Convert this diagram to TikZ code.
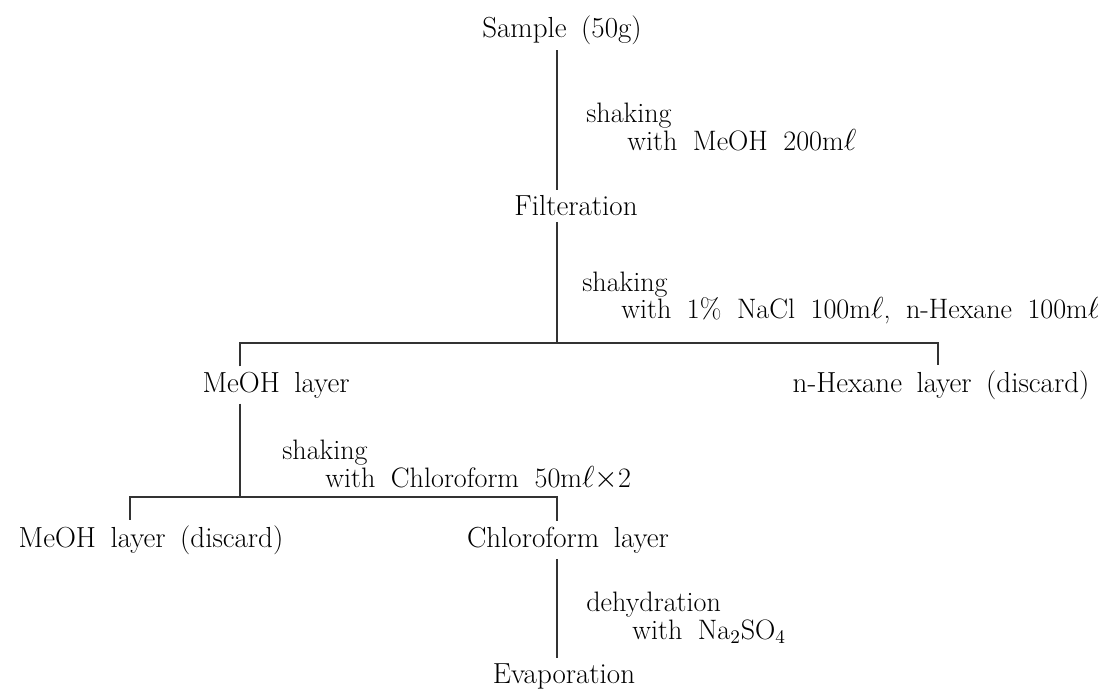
\documentclass[tikz,border=0pt]{standalone}
\usetikzlibrary{positioning}
\newcommand{\stagefont}{\fontsize{16.5}{18}\selectfont\spaceskip 0.5em plus 0.1em\relax}
\newcommand{\condfont}{\fontsize{16}{15.5}\selectfont\spaceskip 0.55em plus 0.1em\relax}
\tikzset{
  stage/.style={inner sep=3pt, font=\stagefont},
  cond/.style={anchor=west, align=left, inner sep=0pt, font=\condfont},
  flow/.style={line width=0.8pt, black!80}
}
\newcommand{\condtext}[3]{#1\\\hspace*{#3}#2}
\begin{document}
\begin{tikzpicture}[x=0.02cm, y=-0.02cm]
  \useasboundingbox (0,0) rectangle (1098,691);
  % main stages
  \node[stage] (samp) at (562, 30) {Sample (50g)};
  \node[stage] (filt) at (576, 206) {Filteration};
  \node[stage] (meoh) at (276, 385) {MeOH layer};
  \node[stage] (hex) at (941, 385) {n-Hexane layer (discard)};
  \node[stage] (mdis) at (151, 540) {MeOH layer (discard)};
  \node[stage] (chl) at (568, 540) {Chloroform layer};
  \node[stage] (evap) at (564, 676) {Evaporation};
  % branch points
  \coordinate (s1) at (557, 343);
  \coordinate (s1l) at (240, 343);
  \coordinate (s1r) at (938, 343);
  \coordinate (s2) at (240, 497);
  \coordinate (s2l) at (130, 497);
  \coordinate (s2r) at (557, 497);
  % connectors
  \draw[flow] (samp.south -| s1) -- (filt.north -| s1);
  \draw[flow] (filt.south -| s1) -- (s1);
  \draw[flow] (s1l |- meoh.north) -- (s1l) -- (s1r) -- (s1r |- hex.north);
  \draw[flow] (meoh.south -| s2) -- (s2);
  \draw[flow] (s2l |- mdis.north) -- (s2l) -- (s2r) -- (s2r |- chl.north);
  \draw[flow] (chl.south -| s2r) -- (s2r |- evap.north);
  % conditions
  \node[cond] (c1) at (586, 127) {\condtext{shaking}{with MeOH 200m$\ell$}{0.82cm}};
  \node[cond] (c2) at (582, 298) {\condtext{shaking}{with 1\% NaCl 100m$\ell$, n-Hexane 100m$\ell$}{0.78cm}};
  \node[cond] (c3) at (282, 465) {\condtext{shaking}{with Chloroform 50m$\ell\times$2}{0.86cm}};
  \node[cond] (c4) at (586, 618) {\condtext{dehydration}{with Na$_2$SO$_4$}{0.92cm}};
\end{tikzpicture}
\end{document}
